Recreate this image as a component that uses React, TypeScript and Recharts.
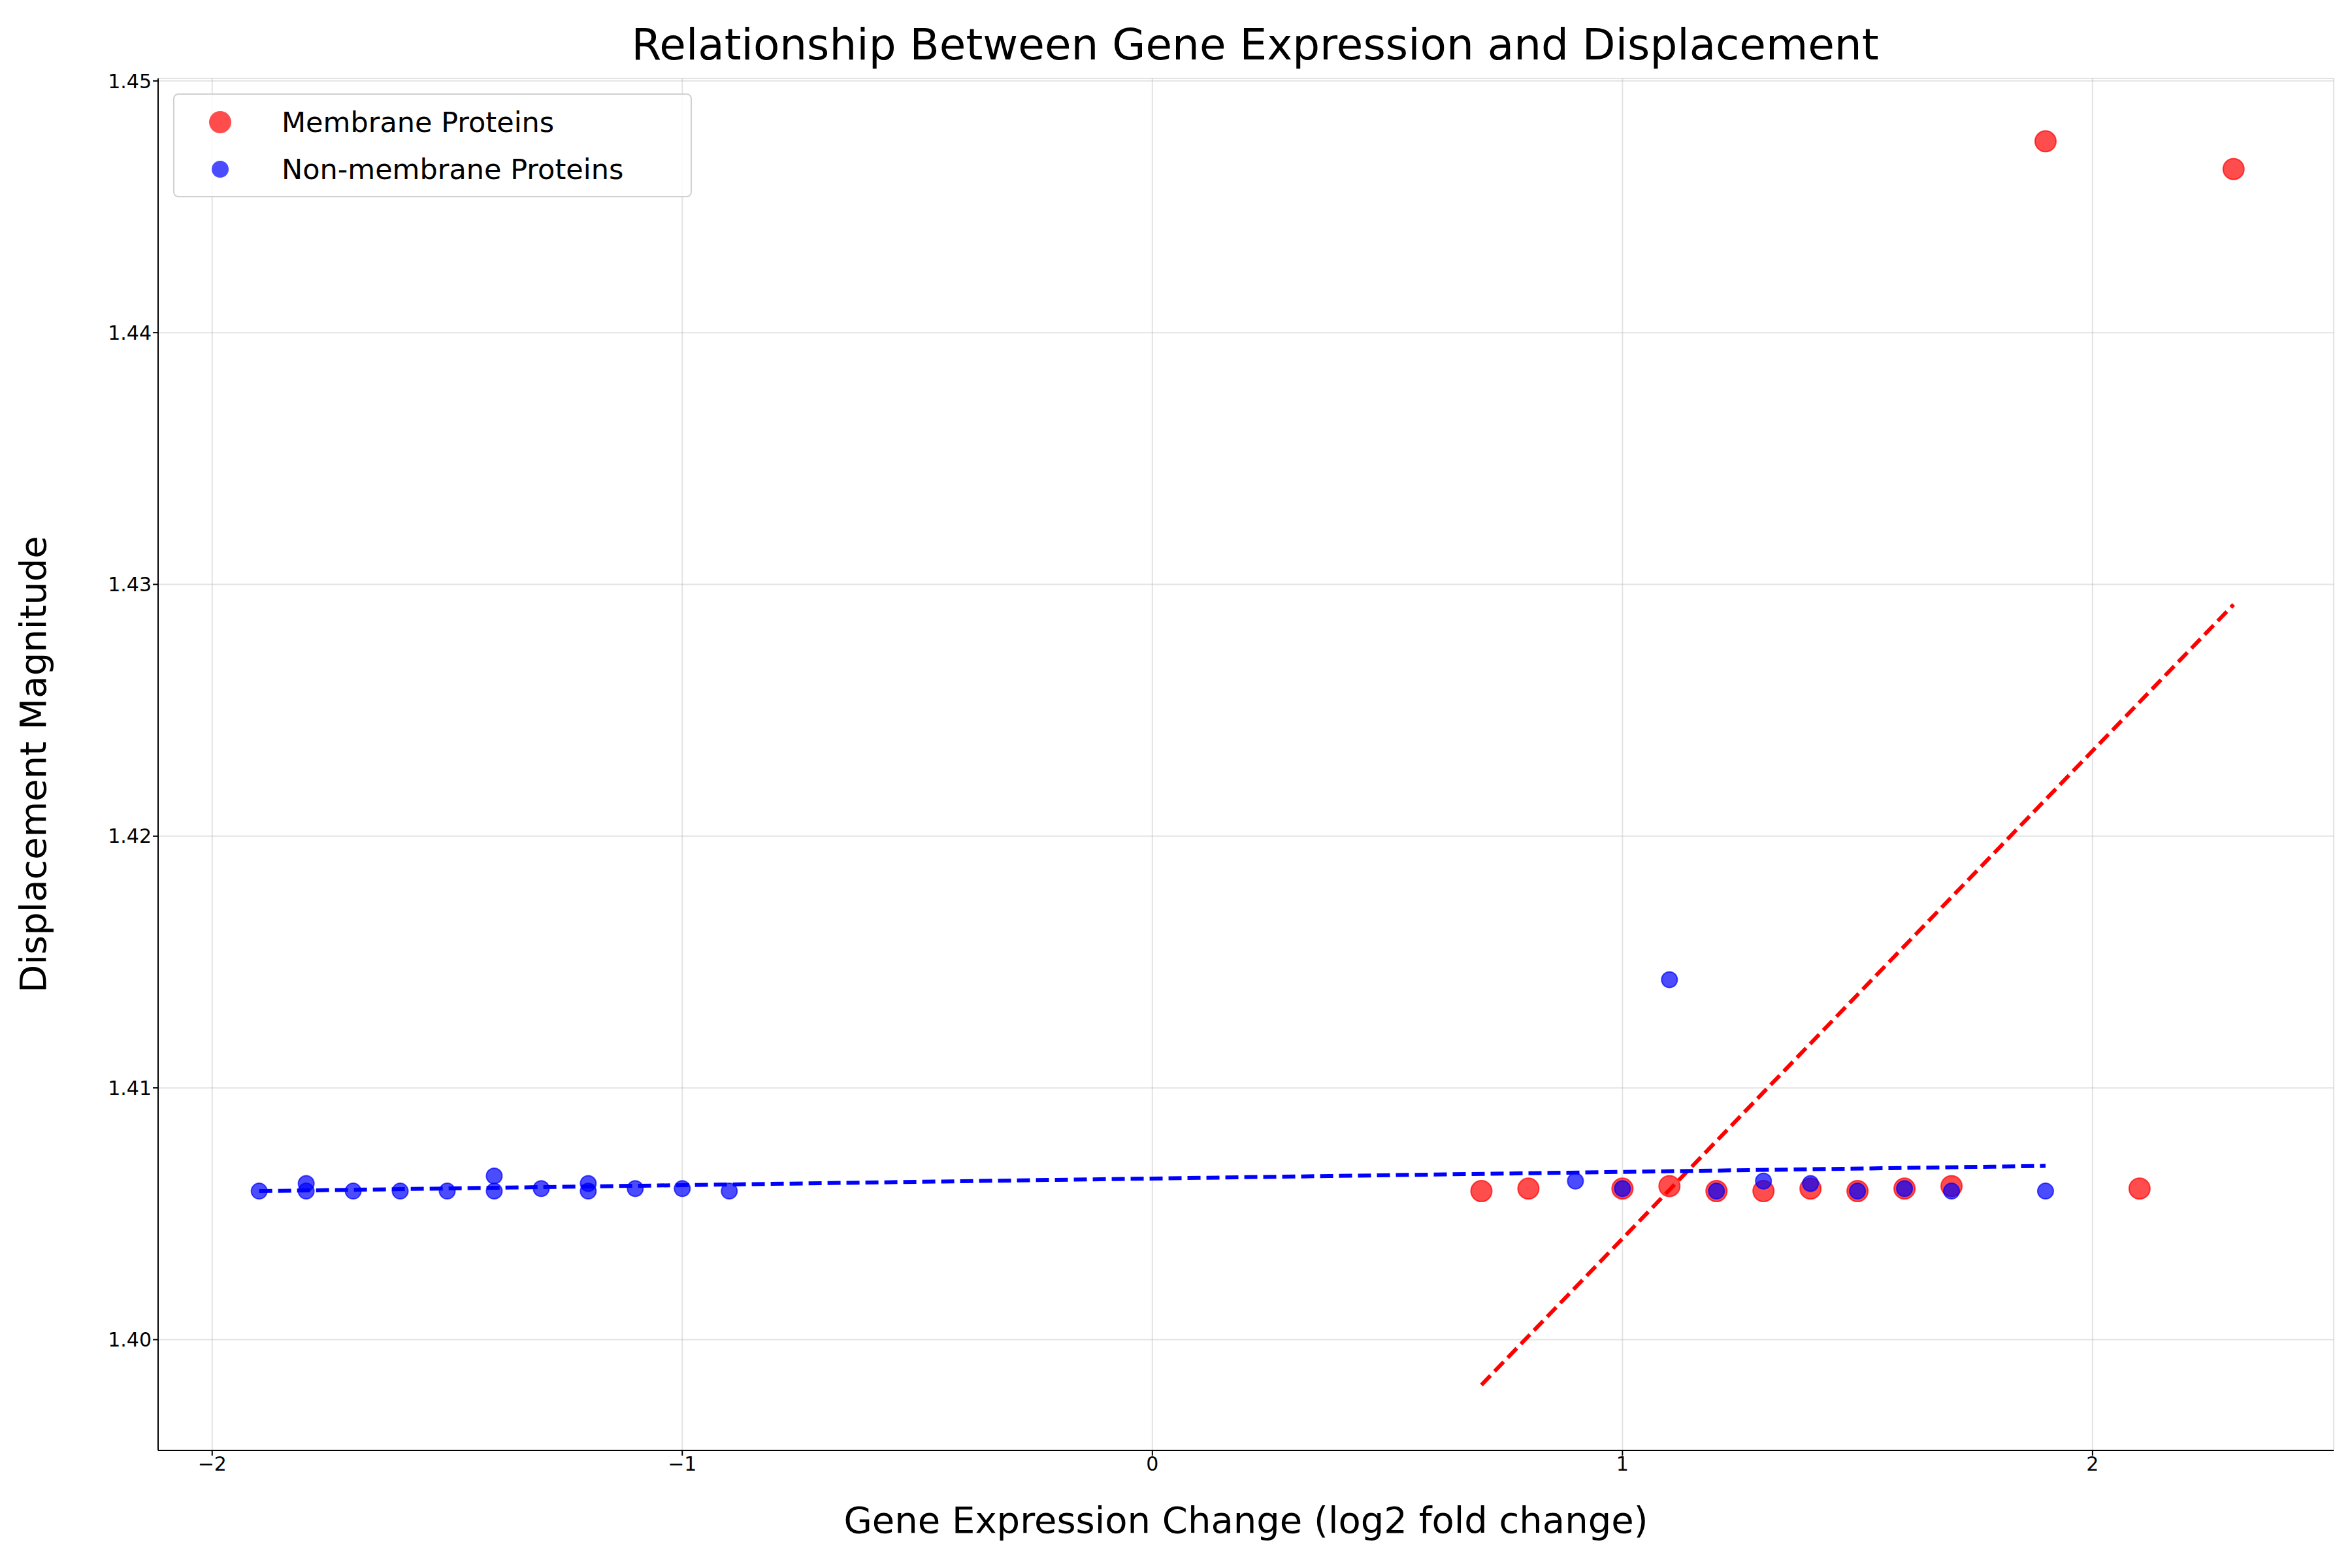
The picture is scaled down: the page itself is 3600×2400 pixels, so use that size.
import React from "react";
import { ComposedChart, Scatter, XAxis, YAxis, CartesianGrid, Label } from "recharts";

const memX = [0.7, 0.8, 1.0, 1.1, 1.2, 1.3, 1.4, 1.5, 1.6, 1.7, 1.9, 2.1, 2.3];
const memY = [1.4059, 1.406, 1.406, 1.4061, 1.4059, 1.4059, 1.406, 1.4059, 1.406, 1.4061, 1.4476, 1.406, 1.4465];
const nonX = [-1.9, -1.8, -1.8, -1.7, -1.6, -1.5, -1.4, -1.4, -1.3, -1.2, -1.2, -1.1, -1.0, -0.9, 0.9, 1.0, 1.1, 1.2, 1.3, 1.4, 1.5, 1.6, 1.7, 1.9];
const nonY = [1.4059, 1.4062, 1.4059, 1.4059, 1.4059, 1.4059, 1.4065, 1.4059, 1.406, 1.4062, 1.4059, 1.406, 1.406, 1.4059, 1.4063, 1.406, 1.4143, 1.4059, 1.4063, 1.4062, 1.4059, 1.406, 1.4059, 1.4059];
const memTrendX = [0.7, 2.3];
const memTrendY = [1.3982, 1.4292];
const nonTrendX = [-1.9, 1.9];
const nonTrendY = [1.4059, 1.4069];
const xTicks = [-2, -1, 0, 1, 2];
const yTicks = [1.40, 1.41, 1.42, 1.43, 1.44, 1.45];

const zip = (xs: number[], ys: number[]) => xs.map((x, i) => ({ x, y: ys[i] }));
const font = "DejaVu Sans, sans-serif";

const dot = (color: string, r: number) => (p: any) => (
  <circle cx={p.cx} cy={p.cy} r={r} fill={color} fillOpacity={0.7} stroke={color} strokeOpacity={0.7} strokeWidth={2} />
);

export default function App() {
  return (
    <div style={{ position: "absolute", left: 0, top: 0, width: 3600, height: 2400, background: "#fff", fontFamily: font }}>
      <ComposedChart width={3600} height={2400} margin={{ top: 120, right: 28, bottom: 0, left: 0 }}>
        <CartesianGrid stroke="#b0b0b0" strokeOpacity={0.35} strokeWidth={2} />
        <XAxis type="number" dataKey="x" domain={[-2.115, 2.513]} ticks={xTicks} height={180} allowDataOverflow
          tickFormatter={(v: number) => (v < 0 ? "\u2212" + Math.abs(v) : String(v))}
          tick={{ fontSize: 30, fill: "#000", fontFamily: font }} tickSize={8} stroke="#000" strokeWidth={2}>
          <Label value="Gene Expression Change (log2 fold change)" position="insideTop" offset={86} style={{ fontSize: 56, fill: "#000", fontFamily: font }} />
        </XAxis>
        <YAxis type="number" dataKey="y" domain={[1.3956, 1.4501]} ticks={yTicks} width={242} allowDataOverflow
          tickFormatter={(v: number) => v.toFixed(2)}
          tick={{ fontSize: 30, fill: "#000", fontFamily: font }} tickSize={8} stroke="#000" strokeWidth={2}>
          <Label value="Displacement Magnitude" angle={-90} position="insideLeft" offset={50} style={{ fontSize: 56, fill: "#000", fontFamily: font, textAnchor: "middle" }} />
        </YAxis>
        <Scatter data={zip(memX, memY)} shape={dot("#ff0000", 16)} isAnimationActive={false} />
        <Scatter data={zip(nonX, nonY)} shape={dot("#0000ff", 12)} isAnimationActive={false} />
        <Scatter data={zip(memTrendX, memTrendY)} line={{ stroke: "#ff0000", strokeWidth: 6, strokeDasharray: "20 9" }} shape={() => null} isAnimationActive={false} />
        <Scatter data={zip(nonTrendX, nonTrendY)} line={{ stroke: "#0000ff", strokeWidth: 6, strokeDasharray: "20 9" }} shape={() => null} isAnimationActive={false} />
      </ComposedChart>
      <div style={{ position: "absolute", top: 30, left: 0, width: 3600, paddingLeft: 242, boxSizing: "border-box", textAlign: "center", fontSize: 66, lineHeight: "78px" }}>
        Relationship Between Gene Expression and Displacement
      </div>
      <div style={{ position: "absolute", left: 265, top: 143, width: 794, height: 159, boxSizing: "border-box", border: "2px solid #d0d0d0", borderRadius: 8, background: "rgba(255,255,255,0.8)", fontSize: 43 }}>
        <div style={{ position: "absolute", left: 70, top: 42, width: 34, height: 34, borderRadius: 17, background: "rgba(255,0,0,0.7)", transform: "translate(-50%,-50%)" }} />
        <div style={{ position: "absolute", left: 164, top: 16, lineHeight: "52px" }}>Membrane Proteins</div>
        <div style={{ position: "absolute", left: 70, top: 114, width: 26, height: 26, borderRadius: 13, background: "rgba(0,0,255,0.7)", transform: "translate(-50%,-50%)" }} />
        <div style={{ position: "absolute", left: 164, top: 88, lineHeight: "52px" }}>Non-membrane Proteins</div>
      </div>
    </div>
  );
}
